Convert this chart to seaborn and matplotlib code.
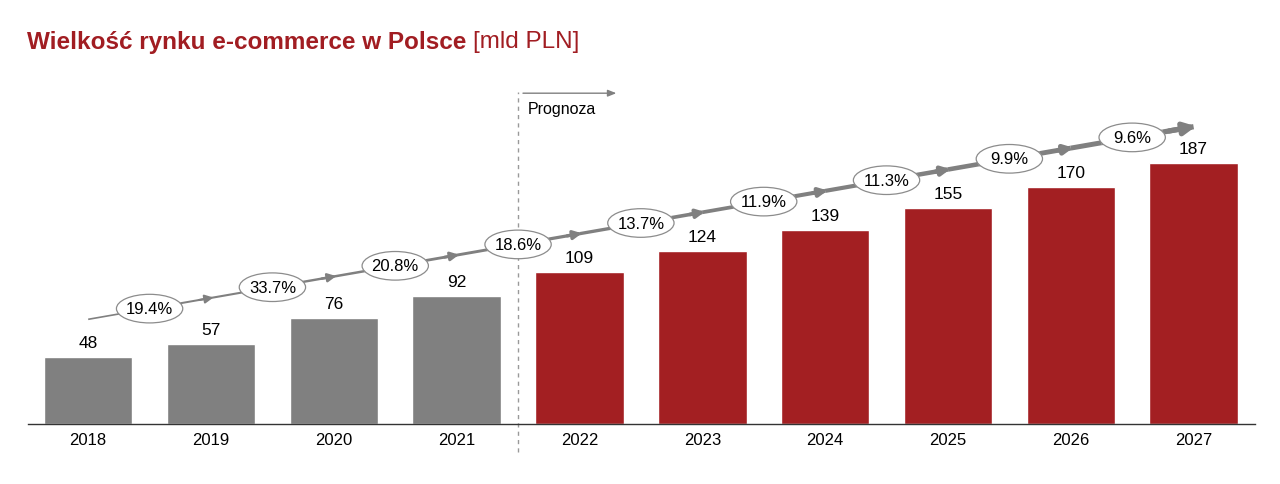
import numpy as np
import pandas as pd
import matplotlib.pyplot as plt
from matplotlib.patches import Ellipse
import seaborn as sns

years  = ['2018', '2019', '2020', '2021', '2022', '2023', '2024', '2025', '2026', '2027']
values = [48, 57, 76, 92, 109, 124, 139, 155, 170, 187]
kind   = ['hist'] * 4 + ['prog'] * 6
growth = ['19.4%', '33.7%', '20.8%', '18.6%', '13.7%', '11.9%', '11.3%', '9.9%', '9.6%']

GRAY = '#808080'
RED  = '#A31F22'
TITLE_RED = '#A11D22'

sns.set_style('white')
plt.rcParams['font.family'] = ['Liberation Sans', 'DejaVu Sans']
plt.rcParams['text.color'] = 'black'

df = pd.DataFrame({'year': years, 'value': values, 'kind': kind})

fig = plt.figure(figsize=(12.8, 4.85), dpi=100)
ax = fig.add_axes([28 / 1280, 1 - 425 / 485, (1255 - 28) / 1280, (425 - 60) / 485])

sns.barplot(data=df, x='year', y='value', hue='kind',
            palette={'hist': GRAY, 'prog': RED}, width=0.72,
            legend=False, ax=ax, saturation=1)

ax.set_xlim(-0.49, 9.5)
ax.set_ylim(0, 261.5)
ax.set_xlabel('')
ax.set_ylabel('')
ax.set_yticks([])
for s in ['top', 'right', 'left']:
    ax.spines[s].set_visible(False)
ax.spines['bottom'].set_color('#333333')
ax.spines['bottom'].set_linewidth(1.0)
ax.tick_params(axis='x', length=0, labelsize=12, pad=6, colors='black')

# value labels
for i, v in enumerate(values):
    ax.text(i, v + 5, str(v), ha='center', va='bottom', fontsize=12.5, color='black')

# growth trend line (thickens to the right)
t0, t1 = 75, 213
xs = np.linspace(0, 9, 37)
ys = t0 + (t1 - t0) * xs / 9
for k in range(len(xs) - 1):
    lw = 1.2 + 2.6 * k / (len(xs) - 2)
    ax.plot(xs[k:k + 2], ys[k:k + 2], color=GRAY, lw=lw,
            solid_capstyle='butt', zorder=3, clip_on=False)

# small arrowheads at bar centres
step = (t1 - t0) / 9
for i in range(1, 9):
    y = t0 + step * i
    lw = 1.2 + 2.6 * i / 9
    ax.annotate('', xy=(i + 0.02, y + step * 0.02), xytext=(i - 0.1, y - step * 0.1),
                arrowprops=dict(arrowstyle='-|>,head_length=0.5,head_width=0.25',
                                color=GRAY, lw=lw, shrinkA=0, shrinkB=0), zorder=3)
# end arrowhead
ax.annotate('', xy=(9.02, t1 + 0.3), xytext=(8.8, t1 - step * 0.2),
            arrowprops=dict(arrowstyle='-|>,head_length=0.7,head_width=0.35',
                            color=GRAY, lw=3.8, shrinkA=0, shrinkB=0), zorder=3,
            annotation_clip=False)

# growth ellipses
for i, g in enumerate(growth):
    x = i + 0.5
    y = t0 + (t1 - t0) * x / 9
    ax.add_patch(Ellipse((x, y), 0.54, 20.5, fc='white', ec='#8c8c8c', lw=0.9, zorder=4))
    ax.text(x, y, g, ha='center', va='center', fontsize=12, zorder=5, color='black')

# forecast divider
ax.plot([3.5, 3.5], [-20, 238], ls=(0, (3, 3)), color='#999999', lw=1.0, clip_on=False, zorder=1)
ax.annotate('', xy=(4.3, 237), xytext=(3.54, 237),
            arrowprops=dict(arrowstyle='-|>,head_length=0.5,head_width=0.2',
                            color=GRAY, lw=1.0, shrinkA=0, shrinkB=0), annotation_clip=False)
ax.text(3.58, 226, 'Prognoza', ha='left', va='center', fontsize=11.5, color='black')

# title
t = fig.text(27 / 1280, 1 - 42 / 485, 'Wielkość rynku e-commerce w Polsce ', color=TITLE_RED,
             fontsize=17.5, fontweight='bold', ha='left', va='center')
fig.canvas.draw()
bb = t.get_window_extent()
fig.text(bb.x1 / 1280, 1 - 42 / 485, '[mld PLN]', color=TITLE_RED,
         fontsize=17.5, ha='left', va='center')

fig.savefig('out.png', dpi=100)
